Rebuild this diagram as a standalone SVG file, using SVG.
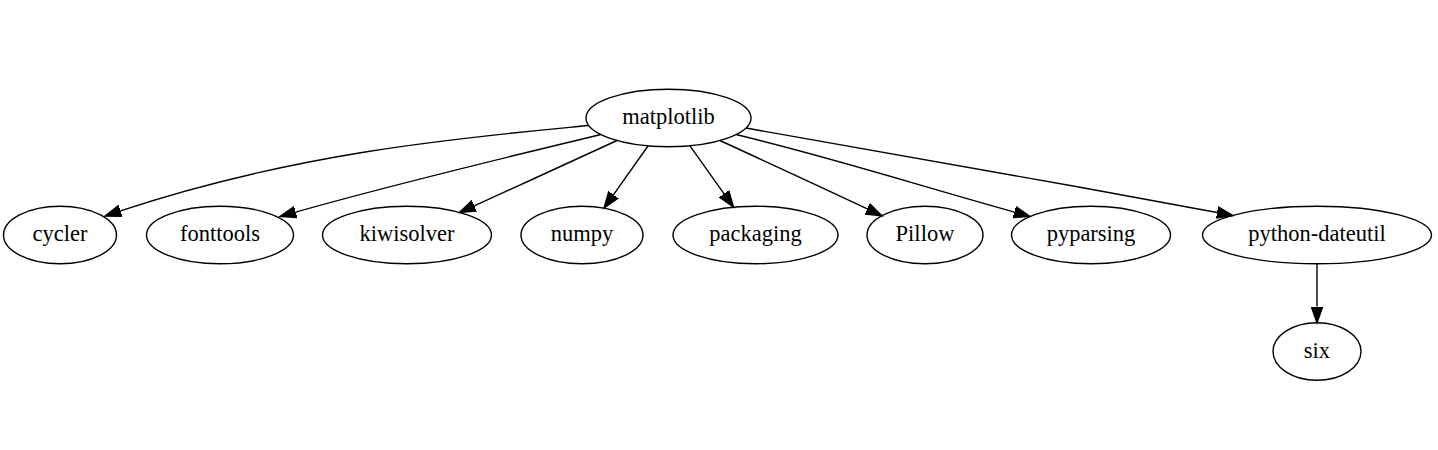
<svg xmlns="http://www.w3.org/2000/svg" width="1438" height="450" viewBox="0 0 1438 450">
<style>
.node ellipse{fill:none;stroke:#000;stroke-width:1.4}
.node text{font-family:"Liberation Serif","Times New Roman",serif;font-size:22.5px;text-anchor:middle;fill:#000}
.edge path{fill:none;stroke:#000;stroke-width:1.4}
</style>
<defs>
<marker id="arr" markerUnits="userSpaceOnUse" markerWidth="20" markerHeight="14" refX="0" refY="7" orient="auto" viewBox="0 0 20 14">
<path d="M0,1.3 L16.2,7 L0,12.7 Z" fill="#000" stroke="#000" stroke-width="1.4"/>
</marker>
</defs>
<rect width="1438" height="450" fill="#fff"/>
<g id="edges">
<g class="edge" id="e-cycler"><path marker-end="url(#arr)" d="M588.5,125.5 C470,137 300.7,150.9 120.4,210.9"/></g>
<g class="edge" id="e-fonttools"><path marker-end="url(#arr)" d="M601,134.5 C500,159 401.4,182.2 295.6,212.1"/></g>
<g class="edge" id="e-kiwisolver"><path marker-end="url(#arr)" d="M617,140.5 C575,160 520,185 474.2,205.8"/></g>
<g class="edge" id="e-numpy"><path marker-end="url(#arr)" d="M648,146 L613.4,194.8"/></g>
<g class="edge" id="e-packaging"><path marker-end="url(#arr)" d="M690,145.8 L724.1,193.8"/></g>
<g class="edge" id="e-pillow"><path marker-end="url(#arr)" d="M720,140.5 C762,160 817,185 867.3,208.9"/></g>
<g class="edge" id="e-pyparsing"><path marker-end="url(#arr)" d="M736,134.5 C837,159 908.5,182.5 1014.4,212.1"/></g>
<g class="edge" id="e-dateutil"><path marker-end="url(#arr)" d="M746,128 C900,155 1060,183 1217.1,212.5"/></g>
<g class="edge" id="e-six"><path marker-end="url(#arr)" d="M1317,263.8 L1317,306.6"/></g>
</g>
<g class="node" id="matplotlib"><ellipse cx="668.5" cy="118" rx="82.5" ry="28.8"/><text x="668.5" y="124">matplotlib</text></g>
<g class="node" id="cycler"><ellipse cx="60" cy="235" rx="56.5" ry="28.8"/><text x="60" y="241">cycler</text></g>
<g class="node" id="fonttools"><ellipse cx="220" cy="235" rx="73.5" ry="28.8"/><text x="220" y="241">fonttools</text></g>
<g class="node" id="kiwisolver"><ellipse cx="407" cy="235" rx="84.5" ry="28.8"/><text x="407" y="241">kiwisolver</text></g>
<g class="node" id="numpy"><ellipse cx="582" cy="235" rx="61" ry="28.8"/><text x="582" y="241">numpy</text></g>
<g class="node" id="packaging"><ellipse cx="755.5" cy="235" rx="82.5" ry="28.8"/><text x="755.5" y="241">packaging</text></g>
<g class="node" id="Pillow"><ellipse cx="925" cy="235" rx="58" ry="28.8"/><text x="925" y="241">Pillow</text></g>
<g class="node" id="pyparsing"><ellipse cx="1091" cy="235" rx="79.5" ry="28.8"/><text x="1091" y="241">pyparsing</text></g>
<g class="node" id="python-dateutil"><ellipse cx="1317" cy="235" rx="114.5" ry="28.8"/><text x="1317" y="241">python-dateutil</text></g>
<g class="node" id="six"><ellipse cx="1317" cy="351.5" rx="44" ry="28.8"/><text x="1317" y="357.5">six</text></g>
</svg>
